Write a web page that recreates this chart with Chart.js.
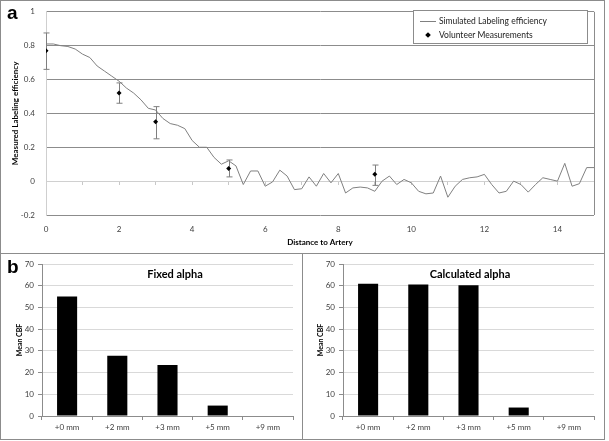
<!DOCTYPE html>
<html>
<head>
<meta charset="utf-8">
<script src="https://cdn.jsdelivr.net/npm/chart.js@4.4.1/dist/chart.umd.min.js"></script>
<style>
  html, body { margin: 0; padding: 0; background: #fff; }
  #fig { position: relative; width: 609px; height: 441px; background: #fff; font-family: Lato, "Open Sans", sans-serif; overflow: hidden; }
  .frame { position: absolute; border: 1px solid #8c8c8c; box-sizing: border-box; }
  .panel-label { position: absolute; font-family: "Liberation Sans", Arial, sans-serif; font-weight: bold; font-size: 19px; color: #000; }
  .cv { position: absolute; }
  .legend { position: absolute; left: 413px; top: 10px; width: 175px; height: 34px; border: 1px solid #8c8c8c; box-sizing: border-box; background: #fff; font-size: 8.5px; color: #222; }
  .legend .row { position: absolute; left: 0; height: 12px; line-height: 12px; white-space: nowrap; }
  .legend .sw-line { position: absolute; left: 6px; top: 6px; width: 16px; border-top: 1px solid #808080; }
  .legend .sw-dia { position: absolute; left: 12px; top: 4px; width: 4px; height: 4px; background: #000; transform: rotate(45deg); }
  .btitle { position: absolute; font-weight: bold; font-size: 11px; color: #000; text-align: center; }
</style>
</head>
<body>
<div id="fig">
  <canvas id="lineChart" class="cv" style="left:2px;top:-4px;"></canvas>
  <canvas id="fixedChart" class="cv" style="left:3px;top:255px;"></canvas>
  <canvas id="calcChart" class="cv" style="left:304px;top:255px;"></canvas>

  <div class="frame" style="left:0;top:0;width:605px;height:254px;"></div>
  <div class="frame" style="left:0;top:253px;width:303px;height:187px;"></div>
  <div class="frame" style="left:302px;top:253px;width:303px;height:187px;"></div>

  <div class="panel-label" style="left:7px;top:2px;">a</div>
  <div class="panel-label" style="left:7px;top:256px;">b</div>

  <div class="legend">
    <div class="row" style="top:4px;"><span class="sw-line"></span><span style="position:absolute;left:25px;">Simulated Labeling efficiency</span></div>
    <div class="row" style="top:18px;"><span class="sw-dia"></span><span style="position:absolute;left:25px;">Volunteer Measurements</span></div>
  </div>

  <div class="btitle" style="left:110px;top:267px;width:130px;">Fixed alpha</div>
  <div class="btitle" style="left:405px;top:267px;width:130px;">Calculated alpha</div>
</div>

<script>
// ====== Data ======
const simDistance = [0, 0.2, 0.4, 0.6, 0.8, 1, 1.2, 1.4, 1.6, 1.8, 2, 2.2, 2.4, 2.6, 2.8, 3, 3.2, 3.4, 3.6, 3.8,
    4, 4.2, 4.4, 4.6, 4.8, 5, 5.2, 5.4, 5.6, 5.8, 6, 6.2, 6.4, 6.6, 6.8, 7, 7.2, 7.4, 7.6, 7.8,
    8, 8.2, 8.4, 8.6, 8.8, 9, 9.2, 9.4, 9.6, 9.8, 10, 10.2, 10.4, 10.6, 10.8, 11, 11.2, 11.4, 11.6, 11.8,
    12, 12.2, 12.4, 12.6, 12.8, 13, 13.2, 13.4, 13.6, 13.8, 14, 14.2, 14.4, 14.6, 14.8, 15];
const simEfficiency = [0.81, 0.81, 0.80, 0.795, 0.78, 0.75, 0.73, 0.68, 0.65, 0.62,
    0.59, 0.55, 0.52, 0.48, 0.43, 0.42, 0.37, 0.34, 0.33, 0.31,
    0.24, 0.20, 0.20, 0.14, 0.10, 0.12, 0.09, -0.02, 0.06, 0.06,
    -0.03, -0.005, 0.065, 0.03, -0.05, -0.045, 0.025, -0.03, 0.045, -0.01,
    0.045, -0.07, -0.04, -0.035, -0.04, -0.06, 0.00, 0.03, -0.02, 0.01,
    -0.01, -0.06, -0.075, -0.07, 0.03, -0.095, -0.03, 0.01, 0.02, 0.025,
    0.04, -0.02, -0.07, -0.06, 0.00, -0.02, -0.065, -0.02, 0.02, 0.01,
    0.00, 0.105, -0.03, -0.015, 0.08, 0.08];

const volDistance = [0, 2, 3, 5, 9];
const volEfficiency = [0.77, 0.52, 0.35, 0.075, 0.04];
const volLow = [0.66, 0.46, 0.25, 0.025, -0.025];
const volHigh = [0.875, 0.58, 0.44, 0.125, 0.095];

const cbfCategories = ['+0 mm', '+2 mm', '+3 mm', '+5 mm', '+9 mm'];
const fixedAlphaCBF = [55, 27.8, 23.5, 4.8, 0];
const calcAlphaCBF = [60.9, 60.6, 60.2, 3.9, 0];

// ====== Shared bits ======
const FONT = 'Lato, "Open Sans", sans-serif';
const tickFont = { family: FONT, size: 8 };
const titleFont = { family: FONT, size: 8, weight: 'bold' };

function sizeCanvas(id, w, h) {
    const c = document.getElementById(id);
    c.style.width = w + 'px';
    c.style.height = h + 'px';
    c.width = w; c.height = h;
    return c;
}

// error bars + right border of the plot
const errorBars = {
    id: 'errorBars',
    beforeDatasetsDraw(chart) {
        const { ctx, scales } = chart;
        ctx.save();
        ctx.strokeStyle = '#7f7f7f';
        ctx.lineWidth = 1;
        volDistance.forEach((d, i) => {
            const x = Math.round(scales.x.getPixelForValue(d)) + 0.5;
            const y1 = scales.y.getPixelForValue(volLow[i]);
            const y2 = scales.y.getPixelForValue(volHigh[i]);
            ctx.beginPath();
            ctx.moveTo(x, y1); ctx.lineTo(x, y2);
            ctx.moveTo(x - 3, y1); ctx.lineTo(x + 3, y1);
            ctx.moveTo(x - 3, y2); ctx.lineTo(x + 3, y2);
            ctx.stroke();
        });
        ctx.restore();
    },
    afterDraw(chart) {
        const { ctx, chartArea } = chart;
        ctx.save();
        ctx.strokeStyle = '#8c8c8c';
        ctx.lineWidth = 1;
        ctx.beginPath();
        ctx.moveTo(chartArea.right + 0.5, chartArea.top);
        ctx.lineTo(chartArea.right + 0.5, chartArea.bottom);
        ctx.stroke();
        ctx.restore();
    }
};

// ====== Panel a ======
function initLineChart() {
    const canvas = sizeCanvas('lineChart', 600, 255);
    new Chart(canvas.getContext('2d'), {
        type: 'scatter',
        data: {
            datasets: [
                {
                    type: 'line',
                    label: 'Simulated Labeling efficiency',
                    data: simDistance.map((d, i) => ({ x: d, y: simEfficiency[i] })),
                    borderColor: '#808080',
                    borderWidth: 1,
                    pointRadius: 0,
                    tension: 0,
                    fill: false
                },
                {
                    label: 'Volunteer Measurements',
                    data: volDistance.map((d, i) => ({ x: d, y: volEfficiency[i] })),
                    pointStyle: 'rectRot',
                    pointRadius: 2.5,
                    backgroundColor: '#000',
                    borderColor: '#000',
                    borderWidth: 0
                }
            ]
        },
        options: {
            responsive: false,
            animation: false,
            layout: { padding: { top: 3, right: 8, left: 5, bottom: 0 } },
            plugins: { legend: { display: false }, tooltip: { enabled: false } },
            scales: {
                x: {
                    type: 'linear', min: 0, max: 15,
                    afterFit: s => { s.height = 36; },
                    ticks: {
                        stepSize: 1, font: tickFont, color: '#404040', maxRotation: 0, padding: 2,
                        callback: v => (v % 2 === 0 ? v : '')
                    },
                    grid: { display: false },
                    border: { display: false },
                    title: { display: true, text: 'Distance to Artery', font: titleFont, color: '#000', padding: { top: 1 } }
                },
                x2: {
                    type: 'linear', axis: 'x', position: { y: 0 }, min: 0, max: 15,
                    ticks: { display: false, stepSize: 1 },
                    grid: { drawOnChartArea: false, tickLength: 3, color: '#c8c8c8' },
                    border: { color: '#d0d0d0' }
                },
                y: {
                    min: -0.2, max: 1,
                    afterFit: s => { s.width = 39; },
                    ticks: {
                        stepSize: 0.2, font: tickFont, color: '#404040', padding: 11,
                        callback: v => Math.round(v * 10) / 10
                    },
                    grid: {
                        drawTicks: false,
                        color: ctx => (Math.abs(ctx.tick.value) < 1e-9 ? '#d0d0d0' : '#8c8c8c'),
                        lineWidth: 1
                    },
                    border: { color: '#cfcfcf' },
                    title: { display: true, text: 'Measured Labeling efficiency', font: titleFont, color: '#000', padding: { bottom: 0 } }
                }
            }
        },
        plugins: [errorBars]
    });
}

// ====== Panel b ======
function initBarChart(id, values) {
    const canvas = sizeCanvas(id, 297, 183);
    new Chart(canvas.getContext('2d'), {
        type: 'bar',
        data: {
            labels: cbfCategories,
            datasets: [{
                data: values,
                backgroundColor: '#000',
                borderColor: '#000',
                barPercentage: 0.4,
                categoryPercentage: 1
            }]
        },
        options: {
            responsive: false,
            animation: false,
            layout: { padding: { top: 9, right: 7, left: 9 } },
            plugins: { legend: { display: false }, tooltip: { enabled: false } },
            scales: {
                x: {
                    afterFit: s => { s.height = 22; },
                    ticks: { font: tickFont, color: '#404040', maxRotation: 0, padding: 3 },
                    grid: { offset: true, drawOnChartArea: false, tickLength: 4, color: '#8c8c8c' },
                    border: { color: '#8c8c8c' }
                },
                y: {
                    min: 0, max: 70,
                    afterFit: s => { s.width = 30; },
                    ticks: { stepSize: 10, font: tickFont, color: '#404040', padding: 4 },
                    grid: { color: '#d9d9d9', tickLength: 4, tickColor: '#8c8c8c' },
                    border: { color: '#8c8c8c' },
                    title: { display: true, text: 'Mean CBF', font: { family: FONT, size: 7, weight: 'bold' }, color: '#000', padding: { bottom: 0 } }
                }
            }
        }
    });
}

document.addEventListener('DOMContentLoaded', () => {
    initLineChart();
    initBarChart('fixedChart', fixedAlphaCBF);
    initBarChart('calcChart', calcAlphaCBF);
});
</script>
</body>
</html>
